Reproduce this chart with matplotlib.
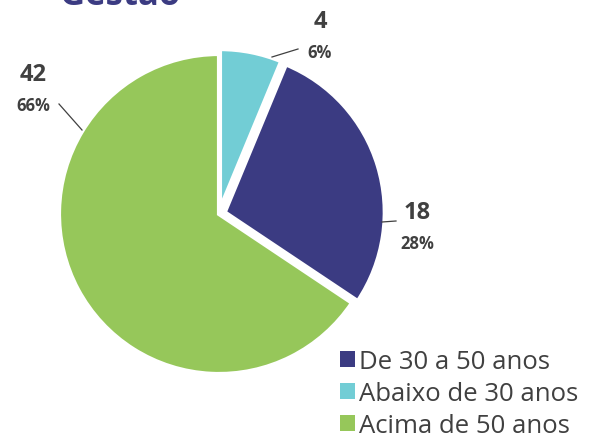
import matplotlib.pyplot as plt
from matplotlib.patches import Patch

plt.rcParams['font.family'] = ['Open Sans', 'DejaVu Sans']

# slices, clockwise from 12 o'clock
labels = ["Abaixo de 30 anos", "De 30 a 50 anos", "Acima de 50 anos"]
values = [4, 18, 42]
percents = ["6%", "28%", "66%"]
colors = ["#72CDD5", "#3B3B82", "#96C75A"]
legend_order = [1, 0, 2]

W, H = 600, 435
fig = plt.figure(figsize=(W / 100, H / 100), dpi=100)
ax = fig.add_axes([0, 0, 1, 1])

# explode is in data units (pixels here)
ax.pie(values, colors=colors, startangle=90, counterclock=False,
       center=(219, H - 215), radius=160, explode=[5, 6, 0],
       wedgeprops=dict(edgecolor='white', linewidth=3, joinstyle='miter'),
       frame=True)
ax.set_xlim(0, W)
ax.set_ylim(0, H)
ax.set_aspect('equal')
ax.axis('off')

# title, cut off at the top edge
ax.text(60, H - 5, "Gestão", fontsize=25, fontweight='bold', color="#3B3B82",
        ha='left', va='baseline')

txt = "#404040"
# data labels: (value x, value y, pct y) in pixels
lab_pos = [(320, 22, 53), (417, 213, 244), (33, 75, 106)]
for (x, yv, yp), v, p in zip(lab_pos, values, percents):
    ax.text(x, H - yv, str(v), fontsize=17, fontweight='bold', color=txt,
            ha='center', va='center')
    ax.text(x, H - yp, p, fontsize=12, fontweight='bold', color=txt,
            ha='center', va='center')

# leader lines
leaders = [((272, 58), (298, 50)), ((382, 223), (396, 222)), ((82, 131), (59, 105))]
for (x0, y0), (x1, y1) in leaders:
    ax.plot([x0, x1], [H - y0, H - y1], color="#404040", lw=0.9)

handles = [Patch(facecolor=colors[i], label=labels[i]) for i in legend_order]
ax.legend(handles=handles, loc='upper left', bbox_to_anchor=(327 / W, 1 - 337 / H),
          frameon=False, fontsize=18.5, handlelength=0.6, handleheight=0.6,
          handletextpad=0.15, labelspacing=0.27, borderpad=0, labelcolor=txt)

fig.savefig("out.png", dpi=100)
